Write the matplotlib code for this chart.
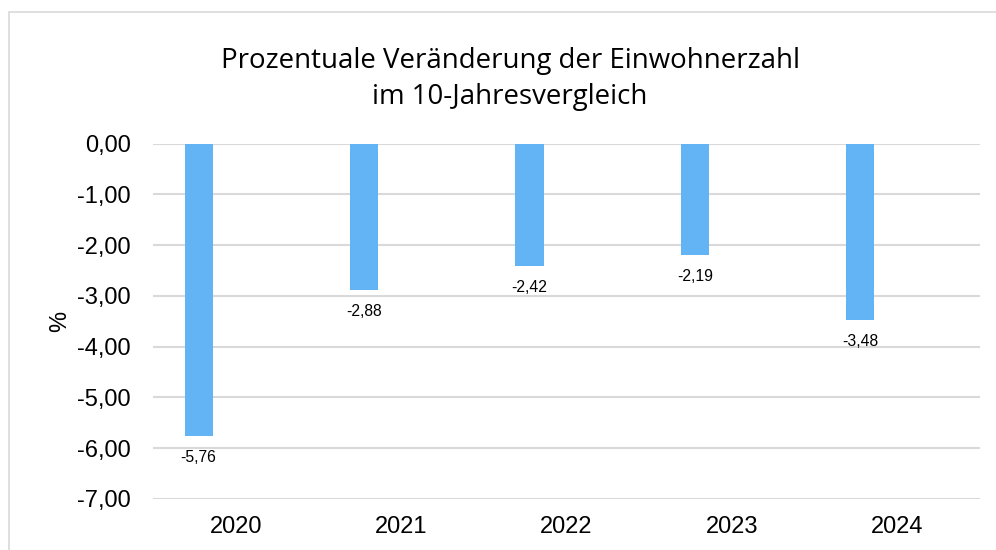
import matplotlib
matplotlib.use("Agg")
import matplotlib.pyplot as plt
from matplotlib.patches import Rectangle

years = ["2020", "2021", "2022", "2023", "2024"]
change = [-5.76, -2.88, -2.42, -2.19, -3.48]
yticks = [0, -1, -2, -3, -4, -5, -6, -7]

bar_color = "#63b4f5"
grid_color = "#d9d9d9"

def de(v):
    return ("%.2f" % v).replace(".", ",")

fig = plt.figure(figsize=(9.96, 5.5), dpi=100)
ax = fig.add_axes([153 / 996, 1 - 499 / 550, 827 / 996, (499 - 143.5) / 550])

# light frame of the chart area (cut off at right and bottom)
fig.patches.append(Rectangle((8.5 / 996, -0.2), 1.2, 1.2 - 12 / 550,
                             transform=fig.transFigure, fill=False,
                             edgecolor=grid_color, linewidth=1.2))

xs = [i + 0.5 - 0.224 for i in range(len(years))]
ax.bar(xs, change, width=0.17, color=bar_color, zorder=3)

for x, v in zip(xs, change):
    ax.annotate(de(v), (x, v), xytext=(0, -10), textcoords="offset points",
                ha="center", va="top", fontsize=11.3, family="Liberation Sans")

ax.set_xlim(0, len(years))
ax.set_ylim(-7, 0)
ax.set_yticks(yticks)
ax.set_yticklabels([de(t) for t in yticks], family="Liberation Sans", fontsize=17)
ax.set_xticks([i + 0.5 for i in range(len(years))])
ax.set_xticklabels(years, family="Liberation Sans", fontsize=17)
ax.tick_params(length=0)
ax.tick_params(axis="y", pad=16)
ax.tick_params(axis="x", pad=12)
ax.grid(axis="y", color=grid_color, linewidth=1.5, zorder=0)
ax.set_axisbelow(True)
for s in ax.spines.values():
    s.set_visible(False)

ax.set_ylabel("%", family="Liberation Sans", fontsize=17, labelpad=4)

fig.text(510 / 996, 1 - 79 / 550, "Prozentuale Veränderung der Einwohnerzahl\nim 10-Jahresvergleich",
         ha="center", va="center", fontsize=19.9, family="Open Sans", linespacing=1.42)

fig.savefig("out.png", dpi=100)
